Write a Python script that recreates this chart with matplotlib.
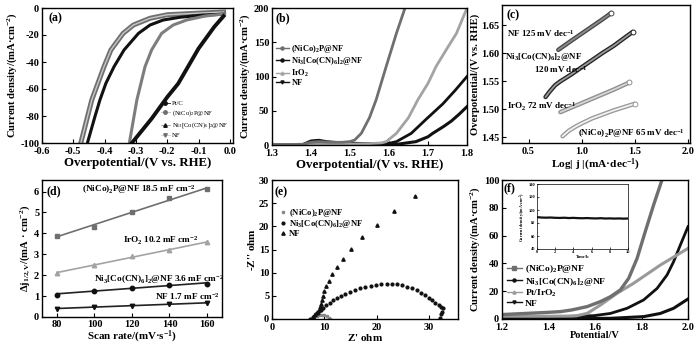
import matplotlib

matplotlib.use("Agg")
import matplotlib.pyplot as plt
import numpy as np
from matplotlib.lines import Line2D

W, H = 700, 344

# (a) HER polarization
a_ptc_x = [-0.02, -0.05, -0.10, -0.165, -0.20, -0.25, -0.313]
a_ptc_y = [-6, -14, -30, -56, -66, -82, -100]
a_nicop_x = [-0.02, -0.08, -0.138, -0.181, -0.218, -0.250, -0.271, -0.297, -0.321]
a_nicop_y = [-4.5, -6.0, -8.9, -12.6, -18.8, -31.1, -43.5, -68.1, -100]
a_ni3_x = [-0.02, -0.10, -0.16, -0.213, -0.255, -0.292, -0.338, -0.370, -0.396, -0.415, -0.431, -0.455]
a_ni3_y = [-4.5, -5.5, -6.9, -8.9, -12.6, -18.8, -31.1, -43.5, -55.8, -68.1, -80.5, -100]
a_nf_x = [-0.02, -0.10, -0.20, -0.255, -0.308, -0.341, -0.380, -0.402, -0.441, -0.476]
a_nf_y = [-3.0, -3.8, -5.0, -7.6, -12.6, -18.8, -31.1, -43.5, -68.1, -100]

# (b) OER LSV
b_nicop_x = [1.30, 1.38, 1.40, 1.42, 1.45, 1.48, 1.50, 1.512, 1.529, 1.55, 1.567, 1.593, 1.619, 1.65]
b_nicop_y = [0.5, 1, 4, 5, 4, 4, 5, 7.3, 17, 40, 66, 115, 163, 215]
b_iro2_x = [1.30, 1.45, 1.55, 1.58, 1.593, 1.619, 1.65, 1.674, 1.70, 1.721, 1.75, 1.773, 1.80]
b_iro2_y = [0.3, 0.8, 2, 3, 4.9, 17, 40, 66, 90, 115, 142, 163, 200]
b_ni3_x = [1.30, 1.38, 1.40, 1.42, 1.44, 1.48, 1.55, 1.60, 1.619, 1.657, 1.696, 1.738, 1.77, 1.80]
b_ni3_y = [0.5, 1, 6, 7, 5, 3, 2, 2.5, 4.9, 17, 38, 60, 80, 100]
b_nf_x = [1.30, 1.40, 1.50, 1.60, 1.62, 1.669, 1.70, 1.712, 1.74, 1.76, 1.78, 1.80]
b_nf_y = [0.3, 0.5, 0.5, 0.6, 1, 4.9, 12, 17, 27, 35, 45, 56]

# (c) Tafel
c_nf_x = [0.78, 0.90, 1.00, 1.10, 1.20, 1.28]
c_nf_y = [1.606, 1.622, 1.635, 1.648, 1.661, 1.672]
c_ni3_x = [0.66, 0.70, 0.75, 0.80, 0.90, 1.00, 1.10, 1.20, 1.30, 1.40, 1.48]
c_ni3_y = [1.522, 1.532, 1.543, 1.550, 1.562, 1.575, 1.588, 1.601, 1.613, 1.627, 1.638]
c_iro2_x = [0.80, 0.90, 1.00, 1.10, 1.20, 1.30, 1.45]
c_iro2_y = [1.495, 1.503, 1.511, 1.519, 1.527, 1.535, 1.548]
c_nicop_x = [0.82, 0.88, 0.95, 1.00, 1.10, 1.20, 1.30, 1.40, 1.50]
c_nicop_y = [1.452, 1.462, 1.470, 1.475, 1.484, 1.491, 1.498, 1.504, 1.510]

# (d) double-layer capacitance
d_scan = [80, 100, 120, 140, 160]
d_nicop = [3.89, 4.32, 5.01, 5.68, 6.13]
d_iro2 = [2.10, 2.50, 2.90, 3.20, 3.58]
d_ni3 = [1.07, 1.26, 1.41, 1.52, 1.60]
d_nf = [0.40, 0.48, 0.54, 0.62, 0.67]

# (e) Nyquist
e_nf_x = [7.9, 8.3, 8.6, 8.9, 9.1, 9.3, 9.5, 9.7, 10.0, 10.3, 10.8, 11.4, 12.4, 13.6, 15.1, 17.2, 20.0, 23.2, 27.3]
e_nf_y = [0.5, 1.0, 1.5, 2.0, 2.5, 3.2, 4.0, 5.0, 6.0, 7.1, 8.3, 9.7, 11.3, 12.9, 15.1, 17.6, 20.3, 23.4, 26.6]
e_ni3_x = [7.3, 7.8, 8.3, 8.8, 9.3, 9.8, 10.4, 11.0, 11.7, 12.4, 13.2, 14.0, 14.9, 15.8, 16.8, 17.8, 18.8,
           19.8, 20.8, 21.9, 22.9, 23.9, 24.9, 25.8, 26.7, 27.6, 28.4, 29.2, 29.9, 30.6, 31.2, 31.8,
           32.3, 32.7, 32.5, 32.2, 32.0]
e_ni3_y = [0.1, 0.5, 0.9, 1.4, 1.9, 2.4, 3.0, 3.5, 4.0, 4.5, 5.0, 5.4, 5.8, 6.2, 6.6, 6.9, 7.1,
           7.3, 7.5, 7.6, 7.6, 7.5, 7.3, 7.0, 6.6, 6.2, 5.7, 5.2, 4.6, 4.0, 3.5, 3.0,
           2.6, 2.3, 1.6, 1.0, 0.3]
e_nicop_x = [7.6, 8.0, 8.5, 9.0, 9.5, 10.0, 10.5, 10.9, 11.1]
e_nicop_y = [0.1, 0.4, 0.7, 0.85, 0.9, 0.8, 0.6, 0.3, 0.05]

# (f) overall water splitting
f_nicop_x = [1.2, 1.3, 1.4, 1.451, 1.5, 1.566, 1.623, 1.666, 1.709, 1.745, 1.781, 1.816, 1.852, 1.888, 1.90]
f_nicop_y = [3.2, 4.0, 4.8, 5.3, 6.5, 8.9, 12.5, 16.0, 20.9, 29.3, 43.6, 62.8, 82.0, 100, 106]
f_ptiro2_x = [1.2, 1.3, 1.4, 1.5, 1.52, 1.566, 1.623, 1.695, 1.766, 1.881, 2.0]
f_ptiro2_y = [2.0, 2.0, 2.0, 2.1, 2.3, 4.0, 10.0, 18.5, 25.7, 38.8, 50.8]
f_ni3_x = [1.2, 1.4, 1.595, 1.666, 1.738, 1.809, 1.867, 1.91, 1.938, 1.967, 2.0]
f_ni3_y = [1.0, 1.5, 2.4, 4.0, 7.7, 13.7, 22.0, 31.7, 41.2, 53.2, 66.4]
f_nf_x = [1.2, 1.5, 1.666, 1.809, 1.881, 1.938, 2.0]
f_nf_y = [0.3, 0.4, 0.5, 1.7, 4.0, 7.7, 14.4]
inset_time = [0, 0.5, 1, 1.5, 2, 2.5, 3, 3.5, 4, 4.5, 5, 5.5, 6, 6.5, 7, 7.5, 8, 8.5, 9, 9.5, 10]
inset_current = [89.0, 88.4, 88.2, 88.4, 88.0, 87.8, 88.1, 87.6, 87.9, 87.5, 87.3, 87.6,
                 87.2, 87.0, 87.4, 86.9, 87.1, 86.8, 87.0, 86.7, 86.9]

BLACK = "#111111"
GRAY = "#6f6f6f"
LIGHT = "#a3a3a3"

CD_LABEL = "Current density/(mA·cm$^{-2}$)"
YLABEL_SIZE = 7.7
TICK_SIZE = 7.5


def rect(left, top, right, bottom):
    return [left / W, 1 - bottom / H, (right - left) / W, (bottom - top) / H]


def style_axis(ax, tag, tag_xy):
    for spine in ax.spines.values():
        spine.set_linewidth(1.0)
    ax.tick_params(direction="in", length=3, width=0.8, labelsize=TICK_SIZE)
    ax.tick_params(axis="x", pad=3.2)
    ax.tick_params(axis="y", pad=2)
    ax.text(*tag_xy, tag, transform=ax.transAxes, fontsize=8.5, fontweight="bold", va="top")


def outlined(ax, x, y, edge, face, lw=3.2):
    ax.plot(x, y, color=edge, lw=lw, solid_capstyle="round")
    ax.plot(x, y, color=face, lw=lw * 0.4, solid_capstyle="round")
    ax.plot(x[-1], y[-1], "o", ms=3.5, mfc="white", mec=edge, mew=0.7)


def plot_her(ax):
    ax.plot(a_nf_x, a_nf_y, color=GRAY, lw=3.6)
    ax.plot(a_nf_x, a_nf_y, color="#c8c8c8", lw=1.0)
    ax.plot(a_ni3_x, a_ni3_y, color=BLACK, lw=2.2)
    ax.plot(a_nicop_x, a_nicop_y, color="#7d7d7d", lw=2.2)
    ax.plot(a_ptc_x, a_ptc_y, color=BLACK, lw=2.8)
    ax.set_xlim(-0.6, 0.01)
    ax.set_ylim(-100, 0)
    ax.set_xticks(np.arange(-0.6, 0.01, 0.1))
    ax.set_xticklabels(["-0.6", "-0.5", "-0.4", "-0.3", "-0.2", "-0.1", "0.0"])
    ax.set_yticks(range(-100, 1, 20))
    ax.set_xlabel("Overpotential/(V vs. RHE)", fontsize=9.3, labelpad=0.5)
    ax.set_ylabel(CD_LABEL, fontsize=YLABEL_SIZE, labelpad=1)
    handles = [
        Line2D([], [], color=BLACK, lw=0.6, marker="o", ms=2.5),
        Line2D([], [], color="#bbbbbb", lw=0.6, marker="o", ms=2.5, mfc=GRAY, mec=GRAY),
        Line2D([], [], color="#999999", lw=0.6, marker="^", ms=2.5, mfc=BLACK, mec=BLACK),
        Line2D([], [], color="#cccccc", lw=0.6, marker="v", ms=2.5, mfc=GRAY, mec=GRAY),
    ]
    labels = ["Pt/C", "(NiCo)$_2$P@NF", "Ni$_3$[Co(CN)$_6$]$_2$@NF", "NF"]
    ax.legend(handles, labels, loc="lower right", frameon=False, handlelength=1.4,
              handletextpad=0.3, labelspacing=0.35, borderaxespad=0.3, prop={"size": 4.8, "weight": "normal"})
    style_axis(ax, "(a)", (0.035, 0.965))


def plot_oer(ax):
    ax.plot(b_nf_x, b_nf_y, color=BLACK, lw=2.2)
    ax.plot(b_ni3_x, b_ni3_y, color=BLACK, lw=2.0)
    ax.plot(b_iro2_x, b_iro2_y, color=LIGHT, lw=2.0)
    ax.plot(b_nicop_x, b_nicop_y, color=GRAY, lw=2.0)
    ax.set_xlim(1.3, 1.8)
    ax.set_ylim(0, 200)
    ax.set_xticks([1.3, 1.4, 1.5, 1.6, 1.7, 1.8])
    ax.set_yticks([0, 50, 100, 150, 200])
    ax.set_xlabel("Overpotential/(V vs. RHE)", fontsize=9.3, labelpad=0.5)
    ax.set_ylabel(CD_LABEL, fontsize=YLABEL_SIZE, labelpad=1)
    handles = [
        Line2D([], [], color=GRAY, lw=1.0, marker="o", ms=2.2),
        Line2D([], [], color=BLACK, lw=1.0, marker="o", ms=2.2),
        Line2D([], [], color=LIGHT, lw=1.0, marker="^", ms=2.2),
        Line2D([], [], color=BLACK, lw=1.0, marker="v", ms=2.2),
    ]
    labels = ["(NiCo)$_2$P@NF", "Ni$_3$[Co(CN)$_6$]$_2$@NF", "IrO$_2$", "NF"]
    ax.legend(handles, labels, loc="upper left", bbox_to_anchor=(-0.02, 0.80), frameon=False,
              handlelength=1.6, handletextpad=0.3, labelspacing=0.05, prop={"size": 6, "weight": "bold"})
    style_axis(ax, "(b)", (0.02, 0.97))


def plot_tafel(ax):
    outlined(ax, c_nf_x, c_nf_y, "#4a4a4a", "#8c8c8c")
    outlined(ax, c_ni3_x, c_ni3_y, "#262626", "#9a9a9a")
    outlined(ax, c_iro2_x, c_iro2_y, "#8f8f8f", "#d6d6d6")
    outlined(ax, c_nicop_x, c_nicop_y, "#9a9a9a", "#f2f2f2")
    ax.set_xlim(0.25, 2.02)
    ax.set_ylim(1.44, 1.686)
    ax.set_xticks([0.5, 1.0, 1.5, 2.0])
    ax.set_yticks([1.45, 1.50, 1.55, 1.60, 1.65])
    ax.set_yticklabels(["1.45", "1.50", "1.55", "1.60", "1.65"])
    ax.set_xlabel("Log| $j$ |(mA·dec$^{-1}$)", fontsize=8.2, labelpad=0.5)
    ax.set_ylabel("Overpotential/(V vs. RHE)", fontsize=YLABEL_SIZE, labelpad=1)
    kw = dict(fontsize=6.5, fontweight="bold", va="center")
    ax.text(0.30, 1.635, "NF 125 mV dec$^{-1}$", **kw)
    ax.text(0.28, 1.594, "Ni$_3$[Co(CN)$_6$]$_2$@NF", **kw)
    ax.text(0.55, 1.571, "120 mV dec$^{-1}$", **kw)
    ax.text(0.30, 1.504, "IrO$_2$ 72 mV dec$^{-1}$", **kw)
    ax.text(0.97, 1.457, "(NiCo)$_2$P@NF 65 mV dec$^{-1}$", **kw)
    style_axis(ax, "(c)", (0.025, 0.97))


def plot_cdl(ax):
    series = [
        (d_nicop, "s", GRAY),
        (d_iro2, "^", LIGHT),
        (d_ni3, "o", BLACK),
        (d_nf, "v", BLACK),
    ]
    for values, marker, color in series:
        slope, intercept = np.polyfit(d_scan, values, 1)
        fit = [slope * s + intercept for s in d_scan]
        ax.plot(d_scan, fit, color=color if color != BLACK else "#222222", lw=1.2)
        ax.plot(d_scan, values, marker, color=color, ms=3.2, ls="none")
    ax.set_xlim(72, 168)
    ax.set_ylim(0, 6.55)
    ax.set_xticks([80, 100, 120, 140, 160])
    ax.set_yticks(range(0, 7))
    ax.set_xlabel("Scan rate/(mV·s$^{-1}$)", fontsize=7.9, labelpad=-0.5)
    ax.set_ylabel(r"$\Delta$j$_{1/2,V}$/(mA · cm$^{-2}$)", fontsize=YLABEL_SIZE, labelpad=1)
    kw = dict(fontsize=6.7, fontweight="bold", va="center")
    ax.text(93.5, 6.1, "(NiCo)$_2$P@NF 18.5 mF cm$^{-2}$", **kw)
    ax.text(115, 3.65, "IrO$_2$ 10.2 mF cm$^{-2}$", **kw)
    ax.text(99.5, 1.78, "Ni$_3$[Co(CN)$_6$]$_2$@NF 3.6 mF cm$^{-2}$", **kw)
    ax.text(132.5, 1.0, "NF 1.7 mF cm$^{-2}$", **kw)
    style_axis(ax, "(d)", (0.026, 0.96))
    ax.tick_params(axis="x", pad=2.5)


def plot_eis(ax):
    ax.plot(e_nicop_x, e_nicop_y, "s", color="#8a8a8a", ms=2.0, ls="none")
    ax.plot(e_ni3_x, e_ni3_y, "o", color=BLACK, ms=2.0, ls="none")
    ax.plot(e_nf_x, e_nf_y, "^", color=BLACK, ms=2.4, ls="none")
    ax.set_xlim(0, 35.5)
    ax.set_ylim(0, 30)
    ax.set_xticks([0, 10, 20, 30])
    ax.set_yticks(range(0, 31, 5))
    ax.set_xlabel("$Z$' ohm", fontsize=8, labelpad=-0.5)
    ax.set_ylabel("-$Z$'' ohm", fontsize=8, labelpad=1)
    handles = [
        Line2D([], [], color="#8a8a8a", marker="s", ms=2.0, ls="none"),
        Line2D([], [], color=BLACK, marker="o", ms=2.0, ls="none"),
        Line2D([], [], color=BLACK, marker="^", ms=2.4, ls="none"),
    ]
    labels = ["(NiCo)$_2$P@NF", "Ni$_3$[Co(CN)$_6$]$_2$@NF", "NF"]
    ax.legend(handles, labels, loc="upper left", bbox_to_anchor=(0.0, 0.86), frameon=False,
              handlelength=0.8, handletextpad=0.3, labelspacing=-0.1, prop={"size": 6.2, "weight": "bold"})
    style_axis(ax, "(e)", (0.016, 0.955))


def plot_overall(fig, ax):
    ax.plot(f_nf_x, f_nf_y, color=BLACK, lw=2.2)
    ax.plot(f_ni3_x, f_ni3_y, color=BLACK, lw=2.0)
    ax.plot(f_ptiro2_x, f_ptiro2_y, color="#9a9a9a", lw=2.2)
    ax.plot(f_nicop_x, f_nicop_y, color=GRAY, lw=2.4)
    ax.set_xlim(1.2, 2.0)
    ax.set_ylim(0, 100)
    ax.set_xticks([1.2, 1.4, 1.6, 1.8, 2.0])
    ax.set_yticks(range(0, 101, 20))
    ax.set_xlabel("Potential/V", fontsize=7.5, labelpad=-1)
    ax.set_ylabel(CD_LABEL, fontsize=YLABEL_SIZE, labelpad=1)
    handles = [
        Line2D([], [], color=GRAY, lw=1.0, marker="s", ms=2.2),
        Line2D([], [], color=BLACK, lw=1.0, marker="o", ms=2.2),
        Line2D([], [], color="#9a9a9a", lw=1.0, marker="^", ms=2.2),
        Line2D([], [], color=BLACK, lw=1.0, marker="v", ms=2.2),
    ]
    labels = ["(NiCo)$_2$P@NF", "Ni$_3$[Co(CN)$_6$]$_2$@NF", "Pt/IrO$_2$", "NF"]
    ax.legend(handles, labels, loc="lower left", bbox_to_anchor=(-0.02, 0.02), frameon=False,
              handlelength=1.6, handletextpad=0.3, labelspacing=0.02, prop={"size": 6.8, "weight": "bold"})
    style_axis(ax, "(f)", (0.008, 0.985))

    inset = fig.add_axes(rect(537, 184, 628, 249))
    inset.plot(inset_time, inset_current, color=BLACK, lw=1.6)
    inset.set_xlim(0, 10)
    inset.set_ylim(40, 140)
    inset.set_xticks(range(0, 11, 2))
    inset.set_yticks(range(40, 141, 20))
    inset.tick_params(direction="in", length=1.5, width=0.5, labelsize=3.2, pad=1.0)
    for spine in inset.spines.values():
        spine.set_linewidth(0.5)
    inset.set_xlabel("Time/h", fontsize=3.2, labelpad=0.3)
    inset.set_ylabel(CD_LABEL, fontsize=3.0, labelpad=0.8)


def main() -> int:
    plt.rcParams["font.family"] = ["Liberation Serif", "DejaVu Serif"]
    plt.rcParams["font.weight"] = "bold"
    plt.rcParams["axes.labelweight"] = "bold"
    plt.rcParams["axes.unicode_minus"] = False
    plt.rcParams["mathtext.default"] = "regular"
    plt.rcParams["mathtext.fontset"] = "custom"
    plt.rcParams["mathtext.rm"] = "Liberation Serif:bold"
    plt.rcParams["mathtext.it"] = "Liberation Serif:italic:bold"
    plt.rcParams["mathtext.bf"] = "Liberation Serif:bold"

    fig = plt.figure(figsize=(W / 100, H / 100), dpi=100)
    ax_a = fig.add_axes(rect(42, 8, 233, 143))
    ax_b = fig.add_axes(rect(272, 8, 467, 145))
    ax_c = fig.add_axes(rect(502, 5, 690, 143))
    ax_d = fig.add_axes(rect(42, 180, 222, 317))
    ax_e = fig.add_axes(rect(272, 180, 458, 319))
    ax_f = fig.add_axes(rect(502, 180, 688, 319))

    plot_her(ax_a)
    plot_oer(ax_b)
    plot_tafel(ax_c)
    plot_cdl(ax_d)
    plot_eis(ax_e)
    plot_overall(fig, ax_f)

    fig.savefig("out.png", dpi=100)
    plt.close(fig)
    return 0


if __name__ == "__main__":
    raise SystemExit(main())
